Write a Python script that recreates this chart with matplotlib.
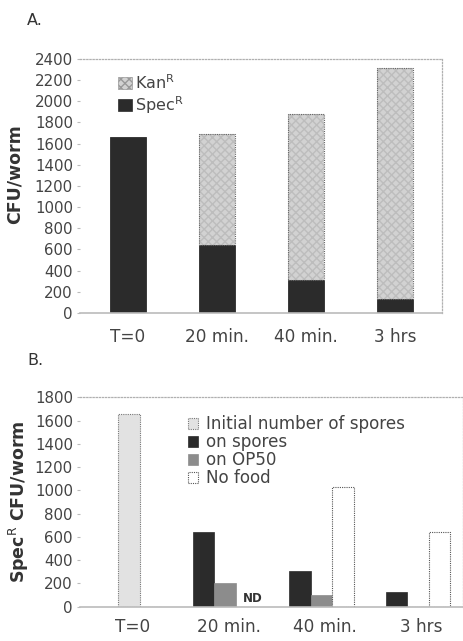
import matplotlib.pyplot as plt
import numpy as np
from matplotlib.patches import Rectangle

# panel A data
times = ["T=0", "20 min.", "40 min.", "3 hrs"]
spec_a = [1660, 640, 310, 130]
kan_a = [0, 1050, 1570, 2180]

# panel B data
initial_b = [1660, 0, 0, 0]
on_spores = [0, 640, 310, 130]
on_op50 = [0, 200, 100, 0]
no_food = [0, 0, 1030, 640]

dark = "#2b2b2b"
txt = "#444444"

fig = plt.figure(figsize=(4.64, 6.41), dpi=100)


def style_axes(ax):
    for s in ["top", "right"]:
        ax.spines[s].set_linestyle((0, (1, 1.5)))
        ax.spines[s].set_color("#b0b0b0")
        ax.spines[s].set_linewidth(0.9)
    ax.spines["bottom"].set_color("#bbbbbb")
    ax.spines["bottom"].set_linewidth(1.2)
    ax.spines["left"].set_visible(False)
    ax.tick_params(axis="y", colors="#bbbbbb", labelcolor=txt, labelsize=10.8,
                   length=2, width=0.8, pad=3)
    ax.tick_params(axis="x", length=0, labelcolor=txt, labelsize=12.2, pad=11)


# ---- A ----
axA = fig.add_axes([0.172, 0.512, 0.781, 0.396])
x = np.arange(len(times))
wA = 0.40
axA.bar(x, spec_a, wA, color=dark, edgecolor=dark, linewidth=0.6)
axA.bar(x, kan_a, wA, bottom=spec_a, color="#d2d2d2", edgecolor="#bdbdbd",
        hatch="xxxx", linewidth=0)
for xi, k, s in zip(x, kan_a, spec_a):
    if k > 0:
        axA.bar(xi, k, wA, bottom=s, fill=False, edgecolor="#666666",
                linewidth=0.8, linestyle=(0, (1, 1)))
axA.set_xlim(-0.54, 3.53)
axA.set_ylim(0, 2400)
axA.set_yticks(range(0, 2401, 200))
axA.set_xticks(x)
axA.set_xticklabels(times)
axA.set_ylabel("CFU/worm", fontsize=12.5, fontweight="bold", color="#333333")
style_axes(axA)
axA.yaxis.set_label_coords(-0.155, 0.545)

# legend A drawn by hand
axA.add_patch(Rectangle((0.105, 0.882), 0.038, 0.046, transform=axA.transAxes,
                        facecolor="#d2d2d2", edgecolor="#999999", hatch="xxxx", lw=0.5))
axA.text(0.152, 0.906, "Kan$^\\mathrm{R}$", transform=axA.transAxes, fontsize=11.5,
         color=txt, va="center")
axA.add_patch(Rectangle((0.105, 0.796), 0.038, 0.046, transform=axA.transAxes,
                        facecolor=dark, edgecolor=dark, lw=0.5))
axA.text(0.152, 0.819, "Spec$^\\mathrm{R}$", transform=axA.transAxes, fontsize=11.5,
         color=txt, va="center")

fig.text(0.058, 0.968, "A.", fontsize=11.5, color="#333333", va="center")

# ---- B ----
axB = fig.add_axes([0.172, 0.0535, 0.826, 0.3265])
wB = 0.223
axB.bar(x, initial_b, wB, color="#e2e2e2", edgecolor="#777777", linewidth=0.8,
        linestyle=(0, (1, 1)), label="Initial number of spores")
axB.bar(x - wB, on_spores, wB, color=dark, edgecolor=dark, linewidth=0.5,
        label="on spores")
axB.bar(x, on_op50, wB, color="#8c8c8c", edgecolor="#8c8c8c", linewidth=0.5,
        label="on OP50")
axB.bar(x + wB, no_food, wB, color="white", edgecolor="#555555", linewidth=0.8,
        linestyle=(0, (1, 1)), label="No food")
axB.text(1 + wB + 0.06, 15, "ND", fontsize=8.5, fontweight="bold", color="#333333",
         ha="center", va="bottom")
axB.set_xlim(-0.51, 3.47)
axB.set_ylim(0, 1800)
axB.set_yticks(range(0, 1801, 200))
axB.set_xticks(x + 0.04)
axB.set_xticklabels(times)
axB.set_ylabel("Spec$^\\mathrm{R}$ CFU/worm", fontsize=12.5, fontweight="bold",
               color="#333333", labelpad=3)
style_axes(axB)
axB.tick_params(axis="x", pad=8)

leg = axB.legend(loc="upper left", bbox_to_anchor=(0.26, 0.955), frameon=False,
                 fontsize=12.1, handlelength=0.6, handleheight=0.6,
                 handletextpad=0.5, labelspacing=0.0, borderpad=0)
for t in leg.get_texts():
    t.set_color(txt)

fig.text(0.058, 0.438, "B.", fontsize=11.5, color="#333333", va="center")

fig.savefig("out.png", dpi=100)
